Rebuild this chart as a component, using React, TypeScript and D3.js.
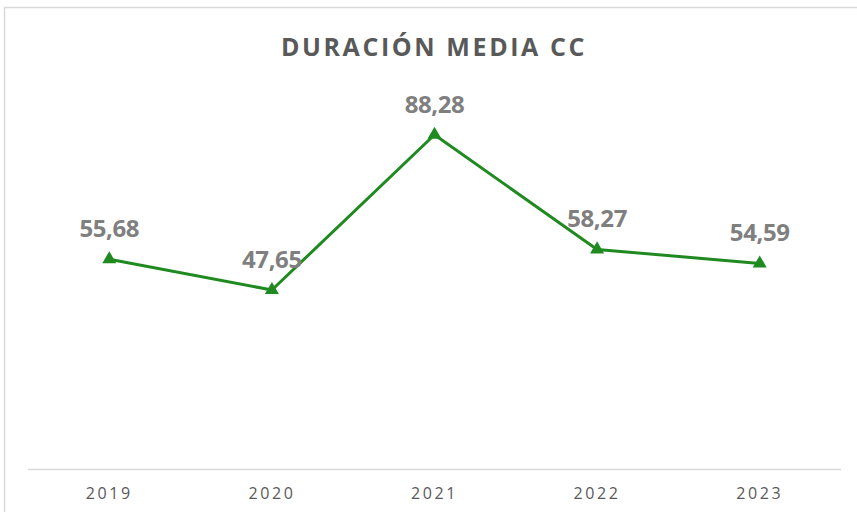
import React from "react";
import * as d3 from "d3";

const years = ["2019", "2020", "2021", "2022", "2023"];
const values = [55.68, 47.65, 88.28, 58.27, 54.59];
const title = "DURACIÓN MEDIA CC";

export default function App() {
  const W = 857, H = 512;
  const x = d3.scaleBand<string>().domain(years).range([28, 841]);
  const y = d3.scaleLinear().domain([0, 100]).range([472, 90]);
  const line = d3.line<number>()
    .x((_, i) => (x(years[i]) as number) + x.bandwidth() / 2)
    .y((d) => y(d));
  const tri = d3.symbol().type(d3.symbolTriangle).size(85)();
  const fmt = (v: number) => v.toFixed(2).replace(".", ",");
  return (
    <svg width={W} height={H} style={{ position: "absolute", left: 0, top: 0, background: "#fff" }}>
      <rect x={4.5} y={7.5} width={W + 10} height={H + 10} fill="#fff" stroke="#d9d9d9" strokeWidth={1.5} />
      <text x={434} y={56} textAnchor="middle" fontFamily="'Open Sans', sans-serif" fontWeight={700}
        fontSize={25} fill="#595959" letterSpacing={2.6}>{title}</text>
      <line x1={28} x2={841} y1={469.5} y2={469.5} stroke="#d9d9d9" strokeWidth={1.5} />
      {years.map((yr) => (
        <text key={yr} x={(x(yr) as number) + x.bandwidth() / 2} y={499} textAnchor="middle"
          fontFamily="'Open Sans', sans-serif" fontSize={16} fill="#595959" letterSpacing={2.6}>{yr}</text>
      ))}
      <path d={line(values) || ""} fill="none" stroke="#1f8a1f" strokeWidth={3} strokeLinejoin="round" />
      {values.map((v, i) => {
        const cx = (x(years[i]) as number) + x.bandwidth() / 2;
        return (
          <g key={i}>
            <path d={tri || ""} transform={`translate(${cx},${y(v)})`} fill="#1f8a1f" />
            <text x={cx} y={y(v) - 22} textAnchor="middle" fontFamily="'Open Sans', sans-serif"
              fontWeight={700} fontSize={24} fill="#7f7f7f" letterSpacing={-0.4}>{fmt(v)}</text>
          </g>
        );
      })}
    </svg>
  );
}
